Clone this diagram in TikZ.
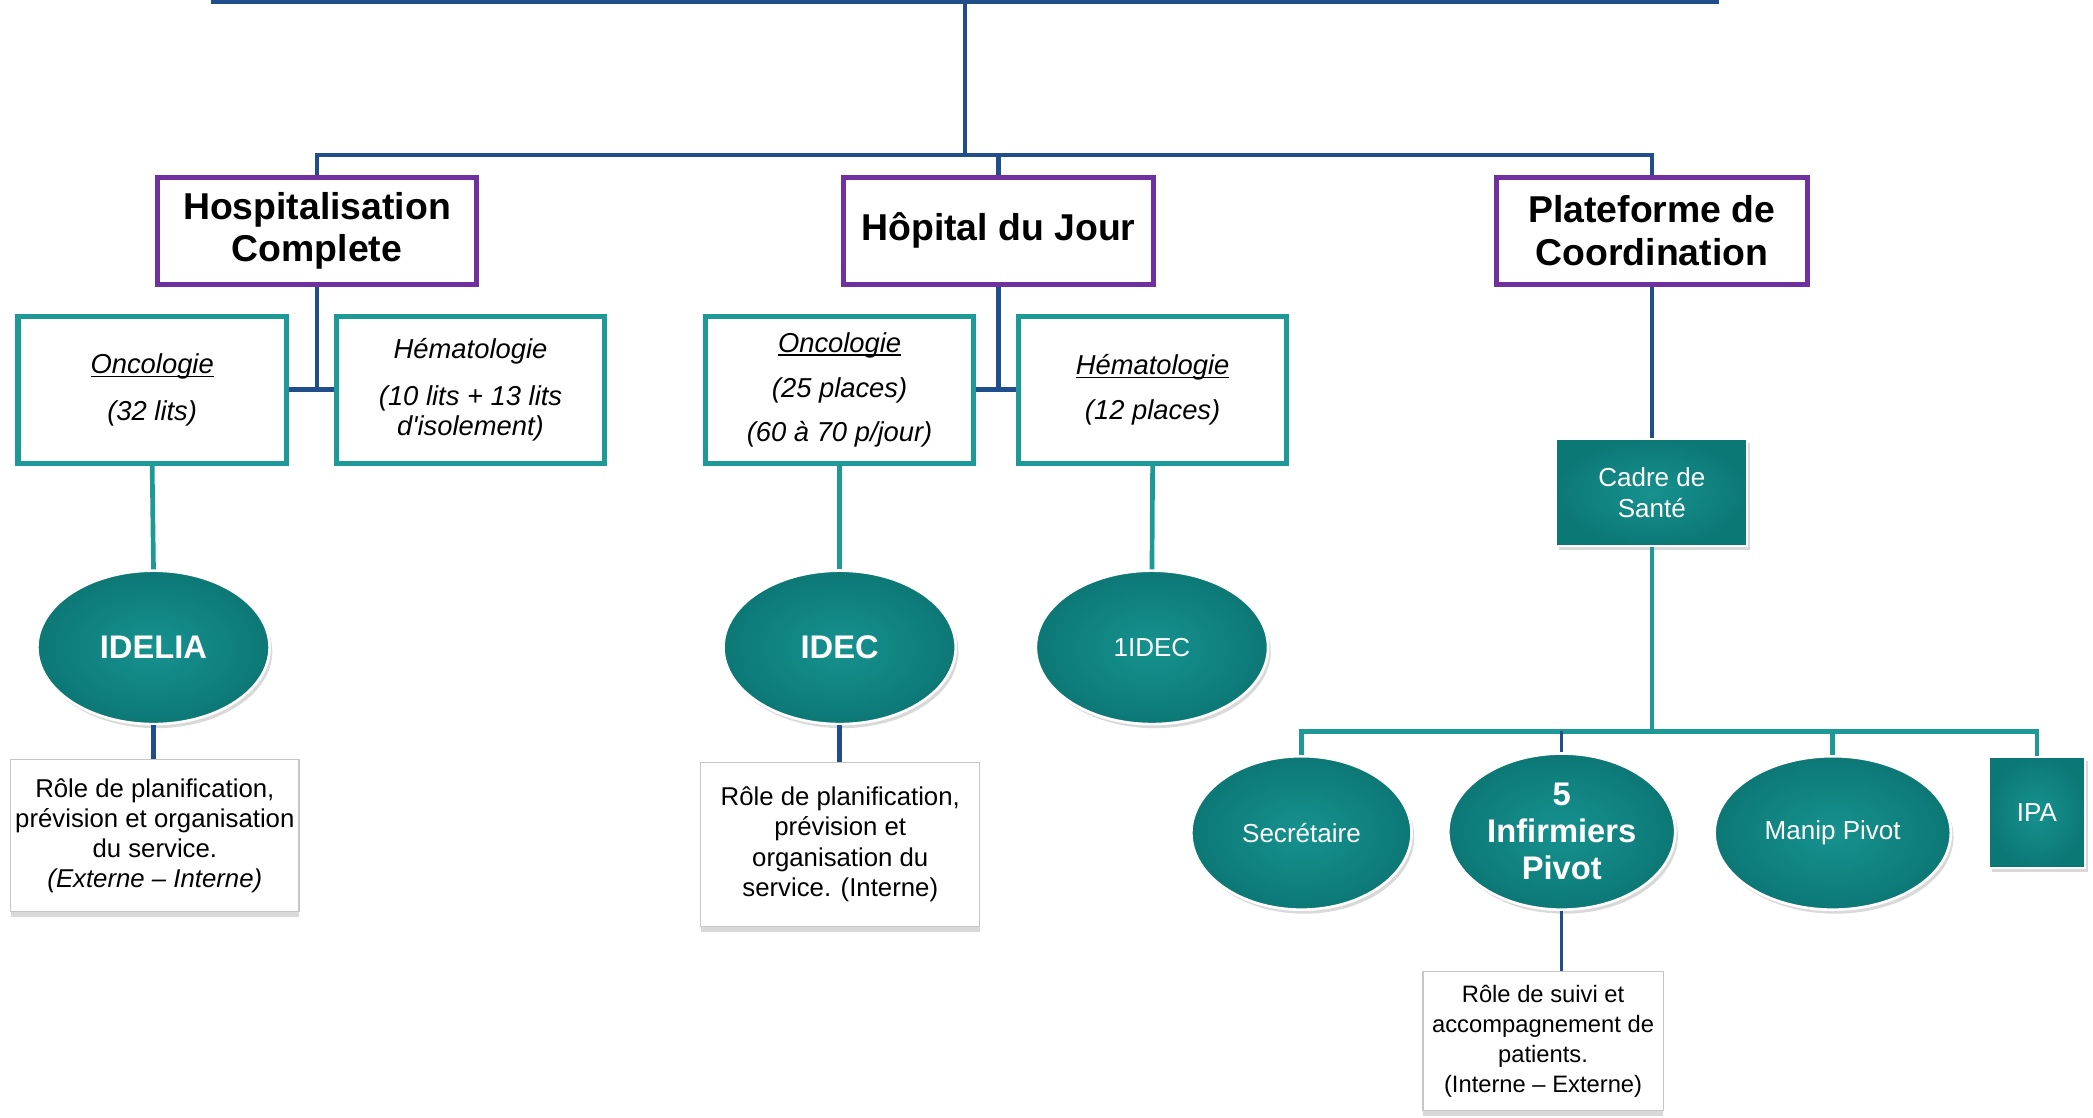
\documentclass[tikz,border=0pt]{standalone}
\usepackage{fontspec}
\setmainfont{Liberation Sans}[Ligatures=TeXOff]
\usetikzlibrary{shapes.geometric,shadows}
\definecolor{hdrpurple}{RGB}{112,48,160}
\definecolor{linkblue}{RGB}{31,78,138}
\definecolor{unitteal}{RGB}{29,154,152}
\definecolor{pillin}{RGB}{22,146,143}
\definecolor{pillout}{RGB}{12,120,118}
% underline a word with a rule placed under its box
\newcommand\ulbox[1]{\setbox0\hbox{#1}\rlap{\rule[-3pt]{\wd0}{1.3pt}}\box0}
\begin{document}
\begin{tikzpicture}[x=1pt,y=-1pt,
  hdr/.style={draw=hdrpurple, line width=4pt, fill=white, minimum height=80pt,
    inner sep=0pt, align=center, font=\bfseries\fontsize{28}{32}\selectfont},
  unit/.style={draw=unitteal, line width=4pt, fill=white, minimum width=201pt,
    minimum height=110pt, inner sep=0pt, align=center,
    font=\itshape\fontsize{20.5}{23}\selectfont},
  pill/.style={ellipse, draw=white, line width=2pt, inner color=pillin,
    outer color=pillout, minimum width=174pt, minimum height=115pt, inner sep=0pt,
    text=white, align=center,
    drop shadow={shadow xshift=2pt, shadow yshift=-3pt, opacity=0.3},
    font=\fontsize{19.5}{23}\selectfont},
  pillbold/.style={pill, font=\bfseries\fontsize{24.5}{27.5}\selectfont},
  tile/.style={rectangle, draw=white, line width=1.5pt, inner color=pillin,
    outer color=pillout, inner sep=0pt, text=white, align=center,
    drop shadow={shadow xshift=2pt, shadow yshift=-3pt, opacity=0.3},
    font=\fontsize{19.5}{23}\selectfont},
  note/.style={draw=gray!45, line width=1pt, fill=white, inner sep=0pt,
    align=center, drop shadow={shadow xshift=0pt, shadow yshift=-4pt, opacity=0.3},
    font=\fontsize{19.3}{22.5}\selectfont},
  bluelink/.style={draw=linkblue, line width=3.5pt},
  teallink/.style={draw=unitteal, line width=3.5pt}
]
\useasboundingbox (0,0) rectangle (1568,837);

% top level
\node[hdr, minimum width=239pt] (hosp) at (237.5,173) {Hospitalisation\\Complete};
\node[hdr, minimum width=232pt] (hdj) at (748,173) {Hôpital du Jour};
\node[hdr, minimum width=233pt] (plat) at (1237.5,173) {Plateforme de\\Coordination};

% units
\node[unit] (onc1) at (114,292) {\ulbox{Oncologie}\\[12pt](32 lits)};
\node[unit] (hem1) at (352.5,292) {Hématologie\\[12pt](10 lits + 13 lits\\d'isolement)};
\node[unit] (onc2) at (629,292) {\ulbox{Oncologie}\\[11pt](25 places)\\[10pt](60 à 70 p/jour)};
\node[unit] (hem2) at (863.5,292) {\ulbox{Hématologie}\\[11pt](12 places)};

\node[tile, minimum width=143pt, minimum height=80pt] (cadre) at (1237.5,369) {Cadre de\\Santé};

% staff
\node[pillbold] (idelia) at (115,485) {IDELIA};
\node[pillbold] (idec) at (629,485) {IDEC};
\node[pill] (idec1) at (863,485) {1IDEC};
\node[pill, minimum width=165pt] (secr) at (975,624) {Secrétaire};
\node[pillbold, minimum width=170pt, minimum height=117pt] (inf) at (1170,623) {5\\Infirmiers\\Pivot};
\node[pill, minimum width=177pt] (manip) at (1373,624) {Manip Pivot};
\node[tile, minimum width=72pt, minimum height=83pt] (ipa) at (1526,608.5) {IPA};

% roles
\node[note, minimum width=216pt, minimum height=114pt] (role1) at (116,626)
  {Rôle de planification,\\prévision et organisation\\du service.\\\textit{(Externe – Interne)}};
\node[note, minimum width=209pt, minimum height=123pt] (role2) at (629.5,632.5)
  {Rôle de planification,\\prévision et\\organisation du\\service. (Interne)};
\node[note, minimum width=180pt, minimum height=104pt, font=\fontsize{17.8}{22.3}\selectfont] (role3) at (1156,780)
  {Rôle de suivi et\\accompagnement de\\patients.\\(Interne – Externe)};

% main trunk and bus
\coordinate (topl) at (158,1.5);
\coordinate (topr) at (1288,1.5);
\coordinate (trunk) at (723,1.5);
\coordinate (busy) at (0,116);
\draw[draw=linkblue, line width=3pt] (topl) -- (topr);
\draw[bluelink] (trunk) -- (trunk |- busy);
\draw[bluelink] (hosp.north) |- (busy -| plat.north) -- (plat.north);
\draw[bluelink] (hdj.north) -- (hdj.north |- busy);

% headers to units
\draw[bluelink] (hosp.south) -- (hosp.south |- onc1.east);
\draw[bluelink] (onc1.east) -- (hem1.west);
\draw[bluelink] (hdj.south) -- (hdj.south |- onc2.east);
\draw[bluelink] (onc2.east) -- (hem2.west);
\draw[bluelink] (plat.south) -- (cadre.north);

% units to staff
\draw[teallink] (onc1.south) -- (idelia.north);
\draw[teallink] (onc2.south) -- (idec.north);
\draw[teallink] (hem2.south) -- (idec1.north);
\draw[bluelink] (idelia.south) -- (idelia.south |- role1.north);
\draw[bluelink] (idec.south) -- (idec.south |- role2.north);

% coordination team
\coordinate (cbus) at (1237.5,548);
\draw[teallink] (cadre.south) -- (cbus);
\draw[teallink] (secr.north) -- (secr.north |- cbus) -- (ipa.north |- cbus) -- (ipa.north);
\draw[teallink] (manip.north) -- (manip.north |- cbus);
\draw[draw=linkblue, line width=2.5pt] (inf.north) -- (inf.north |- cbus);
\draw[draw=linkblue, line width=2.5pt] (inf.south) -- (inf.south |- role3.north);
\end{tikzpicture}
\end{document}
